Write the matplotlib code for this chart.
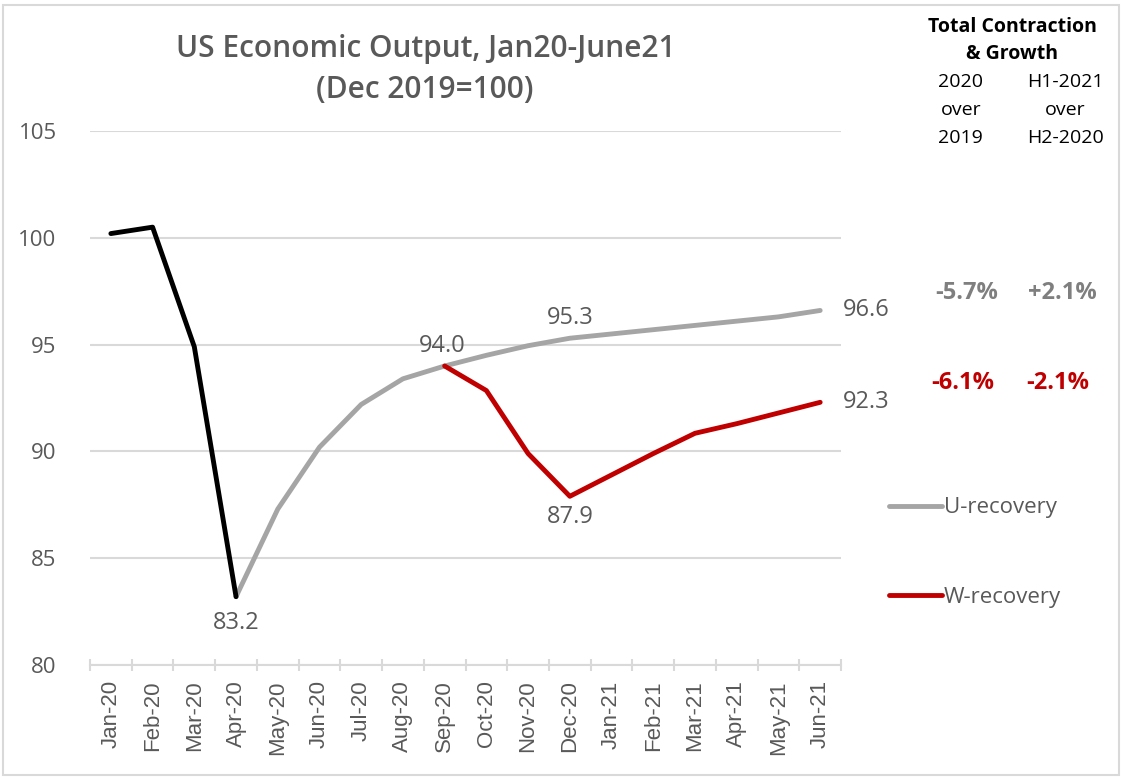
import numpy as np
import matplotlib.pyplot as plt
from matplotlib.patches import Rectangle

months = ['Jan-20', 'Feb-20', 'Mar-20', 'Apr-20', 'May-20', 'Jun-20', 'Jul-20', 'Aug-20', 'Sep-20',
          'Oct-20', 'Nov-20', 'Dec-20', 'Jan-21', 'Feb-21', 'Mar-21', 'Apr-21', 'May-21', 'Jun-21']

# actual drop, Jan-20 .. Apr-20
actual = [100.2, 100.5, 94.9, 83.2]
# U-recovery, Apr-20 .. Jun-21
u_rec = [83.2, 87.3, 90.2, 92.2, 93.4, 94.0, 94.5, 94.95, 95.3, 95.5, 95.7, 95.9, 96.1, 96.3, 96.6]
# W-recovery, Sep-20 .. Jun-21
w_rec = [94.0, 92.85, 89.9, 87.9, 88.9, 89.9, 90.85, 91.3, 91.8, 92.3]

gray_txt = '#595959'
c_black = '#000000'
c_gray = '#A5A5A5'
c_red = '#C00000'

plt.rcParams['font.family'] = ['Open Sans', 'DejaVu Sans']

fig = plt.figure(figsize=(11.25, 7.8), dpi=100)
ax = fig.add_axes([0.08, 0.1474, 0.6676, 0.6846])

x = np.arange(len(months))
kw = dict(lw=3.5, solid_capstyle='round', solid_joinstyle='round')
ax.plot(x[0:4], actual, color=c_black, zorder=4, **kw)
ax.plot(x[3:], u_rec, color=c_gray, zorder=3, label='U-recovery', **kw)
ax.plot(x[8:], w_rec, color=c_red, zorder=5, label='W-recovery', **kw)

ax.set_xlim(-0.5, len(months) - 0.5)
ax.set_ylim(80, 105)
ax.set_yticks([80, 85, 90, 95, 100, 105])
ax.yaxis.grid(True, color='#D9D9D9', lw=1.5)
ax.set_axisbelow(True)
for s in ['top', 'right', 'left']:
    ax.spines[s].set_visible(False)
ax.spines['bottom'].set_color('#D9D9D9')
ax.spines['bottom'].set_linewidth(1.5)

ax.set_xticks(x)
ax.set_xticklabels(months, rotation=90, fontsize=16, color=gray_txt, family='Liberation Sans')
ax.set_xticks(np.arange(-0.5, len(months)), minor=True)
ax.tick_params(axis='x', which='major', length=0, pad=11)
ax.tick_params(axis='x', which='minor', length=8, width=1.5, color='#D9D9D9', direction='inout')
ax.tick_params(axis='y', length=0, labelsize=16, labelcolor=gray_txt, pad=24)

lab = dict(fontsize=17, color=gray_txt)
ax.annotate('83.2', (3, 83.2), xytext=(0, -10), textcoords='offset points', ha='center', va='top', **lab)
ax.annotate('94.0', (8, 94.0), xytext=(-2, 6), textcoords='offset points', ha='center', va='bottom', **lab)
ax.annotate('95.3', (11, 95.3), xytext=(0, 6), textcoords='offset points', ha='center', va='bottom', **lab)
ax.annotate('87.9', (11, 87.9), xytext=(0, -6), textcoords='offset points', ha='center', va='top', **lab)
ax.annotate('96.6', (17, 96.6), xytext=(16, 0), textcoords='offset points', ha='left', va='center', **lab)
ax.annotate('92.3', (17, 92.3), xytext=(16, 0), textcoords='offset points', ha='left', va='center', **lab)

fig.text(0.378, 0.937, 'US Economic Output, Jan20-June21', ha='center', va='center',
         fontsize=21.5, color=gray_txt, fontweight='semibold')
fig.text(0.378, 0.885, '(Dec 2019=100)', ha='center', va='center',
         fontsize=21.5, color=gray_txt, fontweight='semibold')

# right-hand panel
fig.text(0.9, 0.966, 'Total Contraction', ha='center', va='center', fontsize=14, fontweight='bold')
fig.text(0.9, 0.931, '& Growth', ha='center', va='center', fontsize=14, fontweight='bold')
col1, col2 = 0.854, 0.947
for yy, a, b in [(0.895, '2020', 'H1-2021'), (0.859, 'over', 'over'), (0.823, '2019', 'H2-2020')]:
    fig.text(col1, yy, a, ha='center', va='center', fontsize=14)
    fig.text(col2, yy, b, ha='center', va='center', fontsize=14)
fig.text(0.859, 0.624, '-5.7%', ha='center', va='center', fontsize=17, fontweight='bold', color='#7F7F7F')
fig.text(0.944, 0.624, '+2.1%', ha='center', va='center', fontsize=17, fontweight='bold', color='#7F7F7F')
fig.text(0.856, 0.509, '-6.1%', ha='center', va='center', fontsize=17, fontweight='bold', color=c_red)
fig.text(0.94, 0.509, '-2.1%', ha='center', va='center', fontsize=17, fontweight='bold', color=c_red)

# legend drawn as lines beside the plot
fig.legend(handles=ax.get_lines()[1:], labels=['U-recovery', 'W-recovery'], loc='upper left',
           bbox_to_anchor=(0.772, 0.388), frameon=False, fontsize=16, labelcolor=gray_txt,
           handlelength=2.4, handletextpad=0.1, labelspacing=3.1)

fig.patches.append(Rectangle((0.003, 0.006), 0.992, 0.988, transform=fig.transFigure,
                             fill=False, edgecolor='#D9D9D9', lw=1.5))

fig.savefig('out.png', dpi=100)
